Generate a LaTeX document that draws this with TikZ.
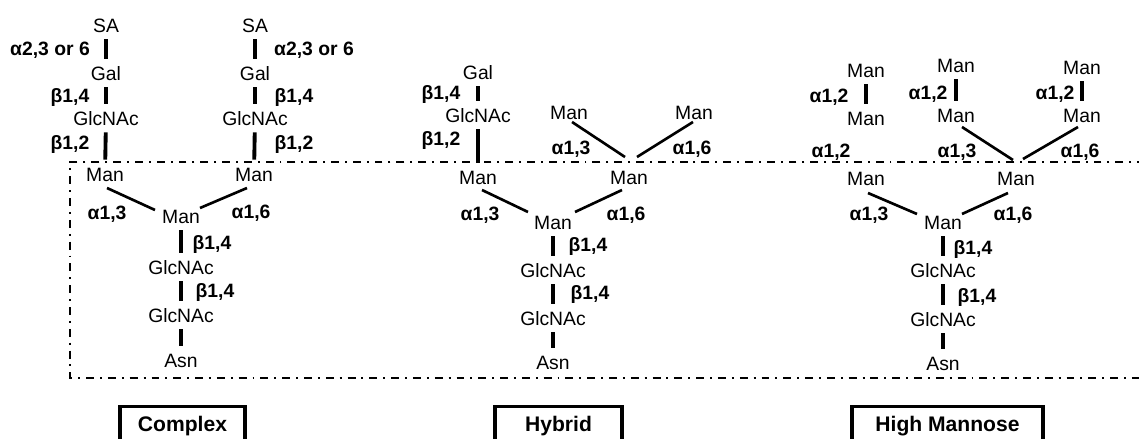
\documentclass[tikz,border=0pt]{standalone}
\usepackage{fontspec}
\setmainfont{Liberation Sans}
\begin{document}
\begin{tikzpicture}[x=0.02cm,y=-0.02cm,
  sugar/.style={inner sep=0pt, text height=8pt, text depth=0pt, font=\fontsize{11}{13}\selectfont},
  lnk/.style={inner sep=0pt, text height=8pt, text depth=0pt, font=\fontsize{11}{13}\selectfont\bfseries},
  vbond/.style={line width=2.2pt, shorten <=0.14cm, shorten >=0.14cm},
  dbond/.style={line width=1.5pt},
  frame/.style={line width=1.1pt, dash pattern=on 4.5pt off 3.4pt on 1.1pt off 3.4pt},
  typebox/.style={draw, line width=1.9pt, anchor=north, inner sep=0pt, text height=0.5cm, text depth=1.2cm, font=\fontsize{12}{14}\selectfont\bfseries}
]
\useasboundingbox (0,0) rectangle (1139,439);
\clip (0,0) rectangle (1139,439);

% shared core frame
\draw[frame] (1145,162) -- (70,162) -- (70,378) -- (1145,378);

% ---------------- Complex ----------------
\node[sugar] (saL)  at (106,25)  {SA};
\node[sugar] (galL) at (106,73)  {Gal};
\node[sugar] (glcL) at (106,118) {GlcNAc};
\node[sugar] (manL) at (105,174) {Man};
\node[sugar] (saR)  at (255,25)  {SA};
\node[sugar] (galR) at (255,73)  {Gal};
\node[sugar] (glcR) at (255,118) {GlcNAc};
\node[sugar] (manR) at (254,174) {Man};
\node[sugar] (manC) at (181,216) {Man};
\node[sugar] (glcC1) at (181,267) {GlcNAc};
\node[sugar] (glcC2) at (181,315) {GlcNAc};
\node[sugar] (asnC) at (181,360) {Asn};

\node[lnk] (cl1) at (50,48)   {α2,3 or 6};
\node[lnk] (cr1) at (314,48)  {α2,3 or 6};
\node[lnk] (cl2) at (70,95)   {β1,4};
\node[lnk] (cr2) at (294,95)  {β1,4};
\node[lnk] (cl3) at (70,142)  {β1,2};
\node[lnk] (cr3) at (294,142) {β1,2};
\node[lnk] (cl4) at (107,212) {α1,3};
\node[lnk] (cr4) at (251,211) {α1,6};
\node[lnk] (cs1) at (212,242) {β1,4};
\node[lnk] (cs2) at (215,290) {β1,4};

\draw[vbond] (saL) -- (galL);
\draw[vbond] (galL) -- (glcL);
\draw[vbond] (glcL) -- (manL);
\draw[vbond] (saR) -- (galR);
\draw[vbond] (galR) -- (glcR);
\draw[vbond] (glcR) -- (manR);
\draw[vbond] (manC) -- (glcC1);
\draw[vbond] (glcC1) -- (glcC2);
\draw[vbond] (glcC2) -- (asnC);
\draw[dbond] ([shift={(2,14)}]manL.center) -- ([shift={(-26,-6)}]manC.center);
\draw[dbond] ([shift={(19,-8)}]manC.center) -- ([shift={(-7,14)}]manR.center);

\node[typebox, minimum width=2.5cm] (boxC) at (182.5,405) {Complex};

% ---------------- Hybrid ----------------
\node[sugar] (galH)  at (478,72)  {Gal};
\node[sugar] (glcH)  at (478,115) {GlcNAc};
\node[sugar] (manHL) at (478,177) {Man};
\node[sugar] (manHU1) at (569,112) {Man};
\node[sugar] (manHU2) at (694,112) {Man};
\node[sugar] (manHJ) at (629,177) {Man};
\node[sugar] (manHC) at (553,222) {Man};
\node[sugar] (glcH1) at (553,270) {GlcNAc};
\node[sugar] (glcH2) at (553,318) {GlcNAc};
\node[sugar] (asnH)  at (553,362) {Asn};

\node[lnk] (hl1) at (441,92)  {β1,4};
\node[lnk] (hl2) at (441,138) {β1,2};
\node[lnk] (hu3) at (571,147) {α1,3};
\node[lnk] (hu6) at (692,147) {α1,6};
\node[lnk] (hc3) at (480,213) {α1,3};
\node[lnk] (hc6) at (626,213) {α1,6};
\node[lnk] (hs1) at (588,244) {β1,4};
\node[lnk] (hs2) at (590,292) {β1,4};

\draw[vbond] (galH) -- (glcH);
\draw[vbond] (glcH) -- (manHL);
\draw[vbond] (manHC) -- (glcH1);
\draw[vbond] (glcH1) -- (glcH2);
\draw[vbond] (glcH2) -- (asnH);
\draw[dbond] ([shift={(3,10)}]manHU1.center) -- ([shift={(-4,-20)}]manHJ.center);
\draw[dbond] ([shift={(8,-20)}]manHJ.center) -- ([shift={(-1,10)}]manHU2.center);
\draw[dbond] ([shift={(4,13)}]manHL.center) -- ([shift={(-25,-10)}]manHC.center);
\draw[dbond] ([shift={(22,-10)}]manHC.center) -- ([shift={(-7,13)}]manHJ.center);

\node[typebox, minimum width=2.54cm] (boxH) at (558.5,405) {Hybrid};

% ---------------- High Mannose ----------------
\node[sugar] (manM1) at (866,70)  {Man};
\node[sugar] (manM2) at (866,118) {Man};
\node[sugar] (manM3) at (956,65)  {Man};
\node[sugar] (manM4) at (956,115) {Man};
\node[sugar] (manM5) at (1082,67) {Man};
\node[sugar] (manM6) at (1082,115) {Man};
\node[sugar] (manMLL) at (866,178) {Man};
\node[sugar] (manMLR) at (1016,178) {Man};
\node[sugar] (manMC) at (943,222) {Man};
\node[sugar] (glcM1) at (943,270) {GlcNAc};
\node[sugar] (glcM2) at (943,319) {GlcNAc};
\node[sugar] (asnM)  at (943,363) {Asn};

\node[lnk] (ma1) at (829,95)   {α1,2};
\node[lnk] (ma2) at (831,150)  {α1,2};
\node[lnk] (ma3) at (928,92)   {α1,2};
\node[lnk] (ma4) at (1055,92)  {α1,2};
\node[lnk] (mu3) at (957,150)  {α1,3};
\node[lnk] (mu6) at (1080,150) {α1,6};
\node[lnk] (mc3) at (869,213)  {α1,3};
\node[lnk] (mc6) at (1013,213) {α1,6};
\node[lnk] (ms1) at (973,247)  {β1,4};
\node[lnk] (ms2) at (977,295)  {β1,4};

\draw[vbond] (manM1) -- (manM2);
\draw[vbond] (manM3) -- (manM4);
\draw[vbond] (manM5) -- (manM6);
\draw[vbond] (manMC) -- (glcM1);
\draw[vbond] (glcM1) -- (glcM2);
\draw[vbond] (glcM2) -- (asnM);
\draw[dbond] ([shift={(6,12)}]manM4.center) -- ([shift={(-3,-18)}]manMLR.center);
\draw[dbond] ([shift={(7,-19)}]manMLR.center) -- ([shift={(-4,12)}]manM6.center);
\draw[dbond] ([shift={(2,15)}]manMLL.center) -- ([shift={(-26,-8)}]manMC.center);
\draw[dbond] ([shift={(19,-8)}]manMC.center) -- ([shift={(-8,15)}]manMLR.center);

\node[typebox, minimum width=3.82cm] (boxM) at (947.5,405) {High Mannose};
\end{tikzpicture}
\end{document}
